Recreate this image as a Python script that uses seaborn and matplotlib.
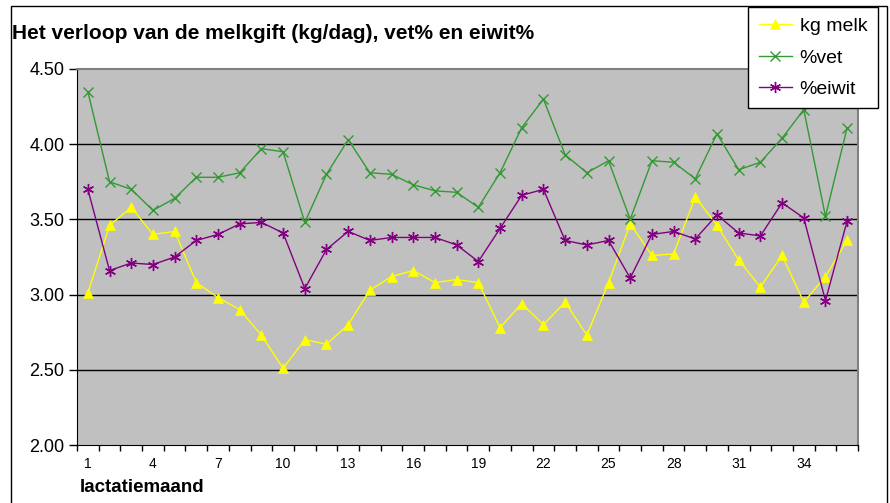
import matplotlib
matplotlib.use("Agg")
import matplotlib.pyplot as plt
from matplotlib.patches import Rectangle
import numpy as np
import seaborn as sns

# data
maand = list(range(1, 37))
kg_melk = [3.01, 3.46, 3.58, 3.40, 3.42, 3.08, 2.98, 2.90, 2.73, 2.51,
           2.70, 2.67, 2.80, 3.03, 3.12, 3.16, 3.08, 3.10, 3.08, 2.78,
           2.94, 2.80, 2.95, 2.73, 3.08, 3.47, 3.26, 3.27, 3.65, 3.46,
           3.23, 3.05, 3.26, 2.95, 3.12, 3.36]
pct_vet = [4.35, 3.75, 3.70, 3.56, 3.64, 3.78, 3.78, 3.81, 3.97, 3.95,
           3.48, 3.80, 4.03, 3.81, 3.80, 3.73, 3.69, 3.68, 3.58, 3.81,
           4.11, 4.30, 3.93, 3.81, 3.89, 3.50, 3.89, 3.88, 3.77, 4.07,
           3.83, 3.88, 4.04, 4.23, 3.52, 4.11]
pct_eiwit = [3.70, 3.16, 3.21, 3.20, 3.25, 3.36, 3.40, 3.47, 3.48, 3.41,
             3.04, 3.30, 3.42, 3.36, 3.38, 3.38, 3.38, 3.33, 3.22, 3.44,
             3.66, 3.70, 3.36, 3.33, 3.36, 3.11, 3.40, 3.42, 3.37, 3.53,
             3.41, 3.39, 3.61, 3.51, 2.96, 3.49]
y_ticks = [2.00, 2.50, 3.00, 3.50, 4.00, 4.50]
x_labels = list(range(1, 37, 3))

plt.rcParams["font.family"] = ["Liberation Sans", "DejaVu Sans"]

fig = plt.figure(figsize=(8.9, 5.03), dpi=100)
ax = fig.add_axes([77 / 890, 1 - 445 / 503, (858 - 77) / 890, (445 - 69) / 503])
ax.set_facecolor("#C0C0C0")

# gridlines behind the series
for v in y_ticks[1:-1]:
    ax.axhline(v, color="black", lw=1, zorder=1)

series = [
    (kg_melk, "kg melk", "#FFFF00", "^", 7, 0.5),
    (pct_vet, "%vet", "#339933", "x", 7, 1.0),
    (pct_eiwit, "%eiwit", "#800080", (6, 2, 0), 8, 1.0),
]
for vals, name, col, mk, ms, mew in series:
    sns.lineplot(x=maand, y=vals, ax=ax, color=col, marker=mk, markersize=ms,
                 markeredgecolor=col, markerfacecolor=col, markeredgewidth=mew,
                 lw=1, label=name, zorder=3)

ax.set_xlim(0.5, 36.5)
ax.set_ylim(2.0, 4.5)
ax.set_yticks(y_ticks)
ax.set_yticklabels([f"{v:.2f}" for v in y_ticks], fontsize=13)
ax.set_xticks(x_labels)
ax.set_xticklabels([str(v) for v in x_labels], fontsize=10)
ax.set_xticks(np.arange(0.5, 37, 1), minor=True)
ax.tick_params(axis="x", which="major", length=0, pad=9)
ax.tick_params(axis="x", which="minor", length=4, width=1, color="black")
ax.tick_params(axis="y", length=6, width=1, color="black", pad=3)

for side in ["top", "right"]:
    ax.spines[side].set_color("#808080")
    ax.spines[side].set_linewidth(1.5)
ax.spines["left"].set_color("black")
ax.spines["bottom"].set_color("black")

ax.set_xlabel("")
ax.set_ylabel("")
ax.legend_.remove()

fig.text(12 / 890, 1 - 33 / 503, "Het verloop van de melkgift (kg/dag), vet% en eiwit%",
         fontsize=15, fontweight="bold", ha="left", va="center")
fig.text(80 / 890, 1 - 488 / 503, "lactatiemaand", fontsize=13.5,
         fontweight="bold", ha="left", va="center")

handles, labels = ax.get_legend_handles_labels()
leg = fig.legend(handles, labels, loc="upper right",
                 bbox_to_anchor=(878 / 890, 1 - 7 / 503), fontsize=14,
                 frameon=True, fancybox=False, edgecolor="black",
                 framealpha=1, handlelength=1.7, borderpad=0.55,
                 labelspacing=0.7, handletextpad=0.4, borderaxespad=0)
leg.get_frame().set_linewidth(1)

# outer chart border
fig.patches.append(Rectangle((11 / 890, -0.05), (887 - 11) / 890, 1.05 - 6 / 503,
                             transform=fig.transFigure, fill=False,
                             edgecolor="black", lw=1))

fig.savefig("out.png", dpi=100)
